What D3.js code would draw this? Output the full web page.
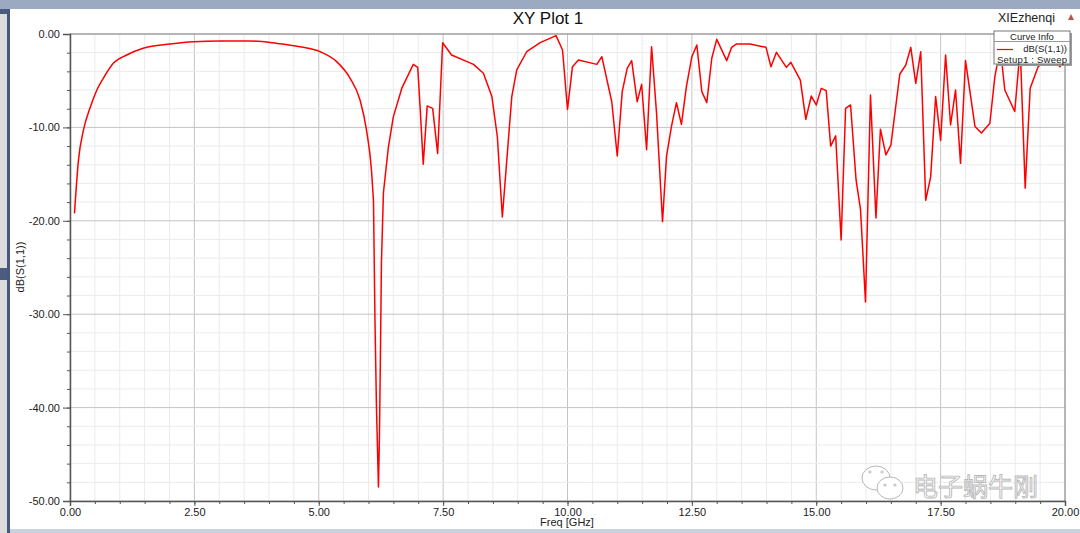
<!DOCTYPE html>
<html>
<head>
<meta charset="utf-8">
<script src="https://cdn.jsdelivr.net/npm/d3@7"></script>
<style>
  html, body { margin: 0; padding: 0; background: #fff; }
  #app { width: 1080px; height: 533px; }
  text { font-family: "Liberation Sans", Arial, sans-serif; }
</style>
</head>
<body>
<div id="app"></div>
<script>
const freq = [0.09,0.17,0.27,0.40,0.54,0.67,0.87,1.14,1.47,2.01,2.48,3.00,3.62,4.15,4.62,5.03,5.36,5.63,5.83,5.96,
  6.06,6.10,6.13,6.16,6.20,6.22,6.24,6.26,6.30,6.40,6.50,6.67,6.90,6.99,7.04,7.10,7.18,7.29,7.39,7.49,
  7.67,8.11,8.31,8.48,8.59,8.69,8.78,8.88,8.98,9.18,9.45,9.77,9.90,10.00,10.10,10.22,10.59,10.69,10.89,11.00,
  11.10,11.20,11.29,11.40,11.49,11.59,11.69,11.79,11.91,11.99,12.09,12.19,12.29,12.39,12.50,12.60,12.70,12.80,12.90,13.00,
  13.20,13.30,13.40,13.67,13.99,14.09,14.20,14.40,14.49,14.68,14.79,14.90,15.00,15.10,15.20,15.29,15.39,15.50,15.59,15.69,
  15.80,15.89,15.99,16.09,16.20,16.29,16.40,16.50,16.68,16.80,16.90,17.00,17.10,17.20,17.30,17.40,17.50,17.60,17.70,17.80,
  17.90,18.00,18.19,18.32,18.49,18.59,18.70,18.79,18.99,19.10,19.20,19.30,19.46,19.56,19.70,19.90,20.00]

const s11 = [-19.2,-13.5,-10.3,-7.96,-6.0,-4.74,-3.14,-2.25,-1.53,-1.07,-0.82,-0.75,-0.75,-1.0,-1.36,-1.9,-2.96,-4.74,-7.07,-10.3,
  -14.6,-17.8,-30.6,-39.9,-48.5,-43.1,-34.2,-24.5,-17.0,-12.1,-8.85,-5.8,-3.25,-3.57,-8.1,-13.95,-7.7,-7.96,-12.8,-0.93,
  -2.25,-3.25,-4.2,-6.7,-11.0,-19.6,-13.5,-6.7,-3.85,-1.9,-0.93,-0.18,-1.71,-8.07,-3.5,-2.78,-3.25,-2.43,-7.25,-13.06,
  -6.17,-3.68,-2.85,-7.25,-5.39,-12.4,-1.36,-8.49,-20.1,-13.1,-9.9,-7.35,-9.67,-5.64,-2.43,-1.18,-6.17,-7.35,-2.6,-0.57,
  -2.85,-1.43,-1.07,-1.07,-1.43,-3.5,-1.96,-3.57,-3.03,-4.93,-9.14,-6.64,-7.6,-5.82,-6.07,-12.0,-10.9,-22.05,-7.96,-7.6,
  -15.6,-18.8,-28.7,-6.53,-19.7,-10.2,-12.95,-11.9,-4.28,-3.32,-1.43,-5.28,-1.9,-17.8,-15.3,-6.7,-11.4,-2.25,-9.74,-6.0,
  -13.85,-2.85,-9.9,-10.6,-9.56,-4.57,-1.5,-6.0,-8.3,-1.5,-16.5,-5.8,-3.5,-3.1,-2.5,-3.5,-2.6]

const yTicks = [0, -10, -20, -30, -40, -50]
const xTicks = [0, 2.5, 5, 7.5, 10, 12.5, 15, 17.5, 20]

const width = 1080, height = 533
const svg = d3.create('svg')
    .attr('width', width)
    .attr('height', height)
    .attr('viewBox', [0, 0, width, height])

// window chrome round the plot
svg.append('rect').attr('x', 0).attr('y', 0).attr('width', width).attr('height', 9).attr('fill', '#9ba9c1')
svg.append('rect').attr('x', 0).attr('y', 9).attr('width', 7).attr('height', height - 9).attr('fill', '#dcdcdc')
svg.append('rect').attr('x', 0).attr('y', 9).attr('width', 7).attr('height', 5).attr('fill', '#4a5d80')
svg.append('rect').attr('x', 0).attr('y', 268).attr('width', 7).attr('height', 12).attr('fill', '#4a5d80')
svg.append('rect').attr('x', 7).attr('y', 9).attr('width', 3).attr('height', height - 9).attr('fill', '#46597c')
svg.append('rect').attr('x', 10).attr('y', 529).attr('width', width - 10).attr('height', 4).attr('fill', '#c9d3e0')

const x = d3.scaleLinear().domain([0, 20]).range([70, 1065])
const y = d3.scaleLinear().domain([-50, 0]).range([501, 34])

// grid
const grid = svg.append('g')
grid.selectAll('.vminor')
    .data(d3.range(0, 20.001, 0.5))
    .join('line')
    .attr('x1', d => x(d)).attr('x2', d => x(d))
    .attr('y1', y(0)).attr('y2', y(-50))
    .attr('stroke', d => d % 2.5 === 0 ? '#c4c4c4' : '#ebebeb')
grid.selectAll('.hminor')
    .data(d3.range(-50, 0.001, 2))
    .join('line')
    .attr('x1', x(0)).attr('x2', x(20))
    .attr('y1', d => y(d)).attr('y2', d => y(d))
    .attr('stroke', d => d % 10 === 0 ? '#c4c4c4' : '#ebebeb')

// frame
svg.append('line').attr('x1', x(0)).attr('x2', x(20)).attr('y1', y(0)).attr('y2', y(0)).attr('stroke', '#8a8a8a')
svg.append('line').attr('x1', x(20)).attr('x2', x(20)).attr('y1', y(0)).attr('y2', y(-50)).attr('stroke', '#8a8a8a')

// axes
const fmt = d => d.toFixed(2)
svg.append('g')
    .attr('transform', `translate(${x(0)},0)`)
    .call(d3.axisLeft(y).tickValues(yTicks).tickFormat(fmt).tickSize(7).tickPadding(3))
svg.append('g')
    .attr('transform', `translate(${x(0)},0)`)
    .call(d3.axisLeft(y).tickValues(d3.range(-48, 0, 2)).tickFormat('').tickSize(3))
    .call(g => g.select('.domain').remove())
svg.append('g')
    .attr('transform', `translate(0,${y(-50)})`)
    .call(d3.axisBottom(x).tickValues(xTicks).tickFormat(fmt).tickSize(5).tickPadding(2))
svg.append('g')
    .attr('transform', `translate(0,${y(-50)})`)
    .call(d3.axisBottom(x).tickValues(d3.range(0.5, 20, 0.5)).tickFormat('').tickSize(3))
    .call(g => g.select('.domain').remove())

svg.selectAll('.domain').attr('stroke', '#555').attr('stroke-width', 1.5)
svg.selectAll('.tick line').attr('stroke', '#555')
svg.selectAll('.tick text')
    .attr('fill', '#222')
    .style('font-size', '11px')
    .style('font-family', '"Liberation Sans", Arial, sans-serif')

// curve: the smooth passband part, then the sampled resonances
const pts = s11.map((d, i) => [freq[i], d])
const smoothEnd = 21
const lineSmooth = d3.line()
    .x(d => x(d[0]))
    .y(d => y(d[1]))
    .curve(d3.curveMonotoneX)
const lineSharp = d3.line()
    .x(d => x(d[0]))
    .y(d => y(d[1]))
svg.append('path')
    .attr('fill', 'none')
    .attr('stroke', '#ff0000')
    .attr('stroke-width', 1.5)
    .attr('stroke-linejoin', 'round')
    .attr('d', lineSmooth(pts.slice(0, smoothEnd + 1)) + lineSharp(pts.slice(smoothEnd)).replace(/^M[^L]*/, ''))

// titles
svg.append('text')
    .attr('x', 548).attr('y', 24)
    .attr('text-anchor', 'middle')
    .style('font-size', '17px')
    .attr('fill', '#111')
    .text('XY Plot 1')
svg.append('text')
    .attr('x', 1055).attr('y', 22)
    .attr('text-anchor', 'end')
    .style('font-size', '12.5px')
    .attr('fill', '#222')
    .text('XIEzhenqi')
svg.append('path')
    .attr('d', 'M1068,20 L1074,20 L1071,14 Z')
    .attr('fill', '#c0504d')
svg.append('text')
    .attr('transform', 'translate(24,267) rotate(-90)')
    .attr('text-anchor', 'middle')
    .style('font-size', '11px')
    .attr('fill', '#222')
    .text('dB(S(1,1))')
svg.append('text')
    .attr('x', 567).attr('y', 526)
    .attr('text-anchor', 'middle')
    .style('font-size', '11px')
    .attr('fill', '#222')
    .text('Freq [GHz]')

// legend
const legend = svg.append('g')
legend.append('rect').attr('x', 996).attr('y', 33).attr('width', 76).attr('height', 33).attr('fill', '#9a9a9a')
legend.append('rect').attr('x', 994).attr('y', 31).attr('width', 76).attr('height', 33)
    .attr('fill', '#fff').attr('stroke', '#777')
legend.append('line').attr('x1', 994).attr('x2', 1070).attr('y1', 41.5).attr('y2', 41.5).attr('stroke', '#999')
legend.append('text').attr('x', 1032).attr('y', 39.5).attr('text-anchor', 'middle')
    .style('font-size', '9.5px').attr('fill', '#222').text('Curve Info')
legend.append('line').attr('x1', 997).attr('x2', 1013).attr('y1', 49.5).attr('y2', 49.5)
    .attr('stroke', '#ff0000').attr('stroke-width', 1.2)
legend.append('text').attr('x', 1067).attr('y', 51.5).attr('text-anchor', 'end')
    .style('font-size', '9.5px').attr('fill', '#222').text('dB(S(1,1))')
legend.append('text').attr('x', 997).attr('y', 62.5).attr('textLength', 70)
    .style('font-size', '9.5px').attr('fill', '#222').text('Setup1 : Sweep')

// watermark
const wm = svg.append('g').attr('fill', '#fff').attr('stroke', '#b8b8b8').attr('stroke-width', 1)
wm.append('ellipse').attr('cx', 876).attr('cy', 478).attr('rx', 14).attr('ry', 12)
wm.append('ellipse').attr('cx', 890).attr('cy', 488).attr('rx', 13).attr('ry', 11)
wm.selectAll('.eye')
    .data([[870, 472], [882, 472], [885, 485], [895, 485]])
    .join('circle')
    .attr('cx', d => d[0]).attr('cy', d => d[1]).attr('r', 1.6)
    .attr('fill', '#c8c8c8').attr('stroke', 'none')
wm.append('text')
    .attr('x', 913).attr('y', 496)
    .style('font-family', '"Noto Sans CJK SC", sans-serif')
    .style('font-size', '25px')
    .attr('stroke-width', 0.9)
    .text('电子蜗牛刚')

d3.select('#app').append(() => svg.node())
</script>
</body>
</html>
